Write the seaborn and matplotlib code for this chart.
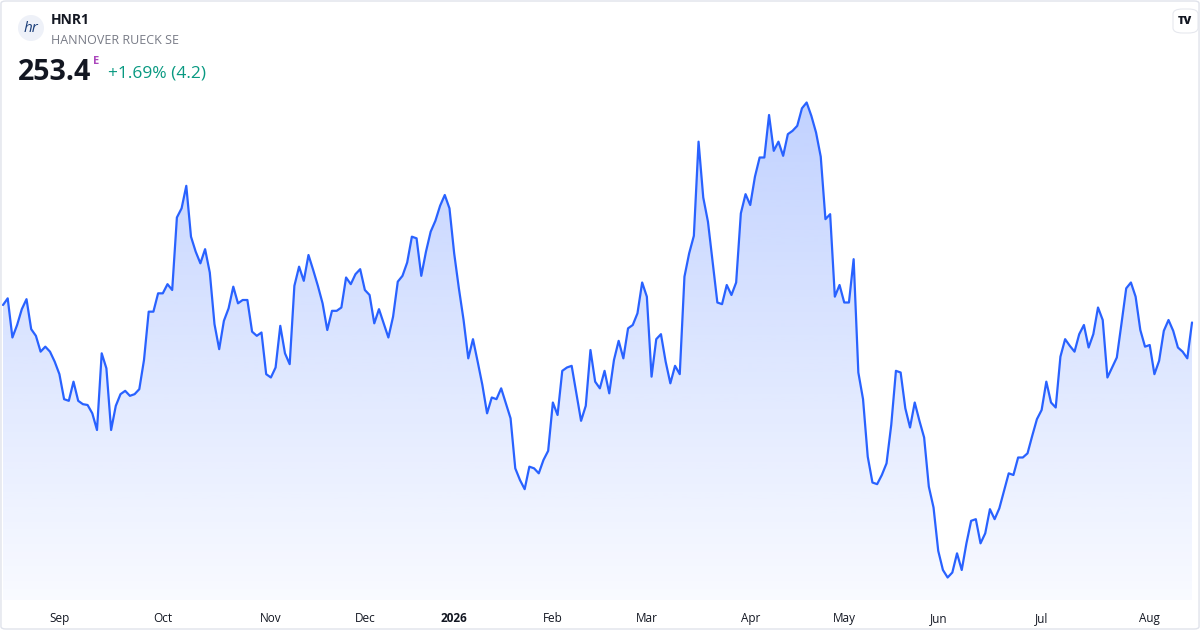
import matplotlib
matplotlib.use('Agg')
import numpy as np
import pandas as pd
import seaborn as sns
import matplotlib.pyplot as plt
from matplotlib.patches import FancyBboxPatch, Circle
from matplotlib.transforms import IdentityTransform

# daily closes, HNR1 (Xetra), Aug 2025 - Aug 2026
prices = [
    255.5, 256.3, 251.6, 253.1, 255.0, 256.2, 252.6, 251.8, 249.9, 250.5,
    249.9, 248.7, 247.2, 244.2, 244.0, 246.3, 244.0, 243.6, 243.5, 242.5,
    240.5, 249.7, 247.9, 240.5, 243.4, 244.8, 245.2, 244.6, 244.8, 245.4,
    248.9, 254.7, 254.7, 256.9, 256.9, 258.0, 257.3, 266.0, 267.1, 269.8,
    263.7, 261.9, 260.5, 262.2, 259.4, 253.2, 250.2, 253.6, 255.1, 257.7,
    255.7, 256.1, 256.1, 252.3, 251.8, 252.2, 247.2, 246.8, 248.0, 253.0,
    249.7, 248.4, 257.8, 260.1, 258.4, 261.5, 259.7, 257.8, 255.7, 252.5,
    254.8, 254.8, 255.2, 258.8, 258.0, 259.2, 259.8, 257.3, 256.7, 253.3,
    255.0, 253.3, 251.6, 254.1, 258.3, 259.0, 260.6, 263.7, 263.5, 259.0,
    261.9, 264.3, 265.6, 267.4, 268.7, 267.1, 261.7, 257.5, 253.7, 249.1,
    251.4, 248.7, 245.9, 242.5, 244.4, 244.2, 245.5, 243.7, 241.9, 235.9,
    234.5, 233.4, 236.1, 235.9, 235.3, 236.9, 238.0, 243.8, 242.3, 247.6,
    248.0, 248.2, 244.9, 241.6, 243.4, 250.1, 246.3, 245.5, 247.6, 244.9,
    248.9, 251.2, 249.1, 252.7, 253.1, 254.5, 258.2, 256.5, 246.9, 251.4,
    252.0, 248.7, 246.1, 248.2, 247.2, 258.9, 261.7, 263.8, 275.1, 268.4,
    265.5, 260.7, 255.8, 255.6, 257.9, 256.7, 258.2, 266.5, 268.8, 267.5,
    270.9, 273.2, 273.2, 278.3, 274.0, 275.1, 273.4, 276.0, 276.4, 277.0,
    279.1, 279.8, 278.2, 276.2, 273.3, 265.8, 266.4, 256.5, 257.9, 255.8,
    255.8, 261.0, 247.4, 244.2, 237.3, 234.2, 234.0, 235.1, 236.5, 241.1,
    247.6, 247.4, 243.1, 240.8, 243.8, 241.6, 239.6, 233.7, 231.2, 226.0,
    223.7, 222.8, 223.4, 225.7, 223.7, 226.9, 229.6, 229.8, 226.9, 228.1,
    231.0, 229.8, 231.1, 233.2, 235.3, 235.1, 237.2, 237.2, 237.7, 239.8,
    241.8, 242.9, 246.3, 243.8, 243.2, 249.3, 251.4, 250.6, 249.9, 252.0,
    253.1, 250.4, 252.0, 255.2, 253.7, 246.8, 248.0, 249.2, 253.3, 257.5,
    258.2, 256.5, 252.5, 250.5, 250.7, 247.2, 248.8, 252.4, 253.7, 252.4,
    250.4, 249.9, 249.1, 253.4,
]
holidays = ['2025-12-24', '2025-12-25', '2025-12-26', '2025-12-31',
            '2026-01-01', '2026-04-03', '2026-04-06', '2026-05-01']
dates = pd.bdate_range('2025-08-14', '2026-08-14', freq='C', holidays=holidays)
dates = dates[-len(prices):]

ticker = 'HNR1'
name = 'HANNOVER RUECK SE'
last_price = '253.4'
change_text = '+1.69% (4.2)'

df = pd.DataFrame({'date': dates, 'close': prices})
df['idx'] = np.arange(len(df))

sns.set_theme(style='white')
plt.rcParams['font.family'] = ['Open Sans', 'DejaVu Sans']

line_col = '#2962ff'
text_col = '#131722'

fig = plt.figure(figsize=(12, 6.3), dpi=100)
ax = fig.add_axes([0, 30 / 630, 1, 540 / 630])

ybot, ytop = 220.1, 284.9
n = len(df)
ax.set_xlim(-0.64, n - 1 + 1.7)
ax.set_ylim(ybot, ytop)

# gradient under the line
poly = ax.fill_between(df['idx'], df['close'], ybot, color='none', lw=0)
alpha = np.linspace(0.03, 0.29, 256)
grad = np.zeros((256, 1, 4))
grad[:, 0, :3] = matplotlib.colors.to_rgb(line_col)
grad[:, 0, 3] = alpha
im = ax.imshow(grad, extent=(-0.64, n + 1.7, ybot, max(prices)), origin='lower',
               aspect='auto', zorder=1, interpolation='bilinear')
im.set_clip_path(poly.get_paths()[0], transform=ax.transData)

sns.lineplot(data=df, x='idx', y='close', ax=ax, color=line_col, linewidth=1.6, zorder=3)

# month ticks on first trading day of each month
first = df.groupby([df['date'].dt.year, df['date'].dt.month])['idx'].min()
first = first.iloc[1:]
tick_pos, tick_lab = [], []
for (yr, mo), i in first.items():
    tick_pos.append(i)
    tick_lab.append(str(yr) if mo == 1 else pd.Timestamp(yr, mo, 1).strftime('%b'))
ax.set_xticks(tick_pos)
ax.set_xticklabels(tick_lab, fontsize=8.5, color=text_col)
for t in ax.get_xticklabels():
    if t.get_text().isdigit():
        t.set_fontweight('bold')
ax.tick_params(axis='x', length=0, pad=8.5)
ax.set_yticks([])
ax.set_xlabel('')
ax.set_ylabel('')
for s in ax.spines.values():
    s.set_visible(False)

# header
fig.patches.append(Circle((31, 630 - 28), 13, transform=IdentityTransform(),
                          fc='#eef1f8', ec='none'))
fig.text(31 / 1200, 1 - 29 / 630, 'hr', ha='center', va='center', fontsize=11,
         style='italic', color='#1c3f7a')
fig.text(51 / 1200, 1 - 20 / 630, ticker, ha='left', va='center', fontsize=10,
         fontweight='bold', color=text_col)
fig.text(51 / 1200, 1 - 41 / 630, name, ha='left', va='center', fontsize=9, color='#787b86')
fig.text(18 / 1200, 1 - 72 / 630, last_price, ha='left', va='center', fontsize=20.5,
         fontweight='bold', color=text_col)
fig.text(93 / 1200, 1 - 61 / 630, 'E', ha='left', va='center', fontsize=8,
         fontweight='bold', color='#ab47bc')
fig.text(108 / 1200, 1 - 74 / 630, change_text, ha='left', va='center', fontsize=12.5,
         color='#089981')

# logo badge top right
fig.patches.append(FancyBboxPatch((1173 / 1200, 1 - 33 / 630), 25 / 1200, 24 / 630,
                                  boxstyle='round,pad=0,rounding_size=0.008',
                                  transform=fig.transFigure, fc='white', ec='#e6e8ee', lw=0.8))
fig.text(1185 / 1200, 1 - 21 / 630, 'TV', ha='center', va='center', fontsize=8,
         fontweight='heavy', color=text_col)

# card border
fig.patches.append(FancyBboxPatch((0.0008, 0.0016), 0.9984, 0.9968,
                                  boxstyle='round,pad=0,rounding_size=0.004',
                                  transform=fig.transFigure, fill=False, ec='#e0e3eb', lw=1))

fig.savefig('out.png', dpi=100)
